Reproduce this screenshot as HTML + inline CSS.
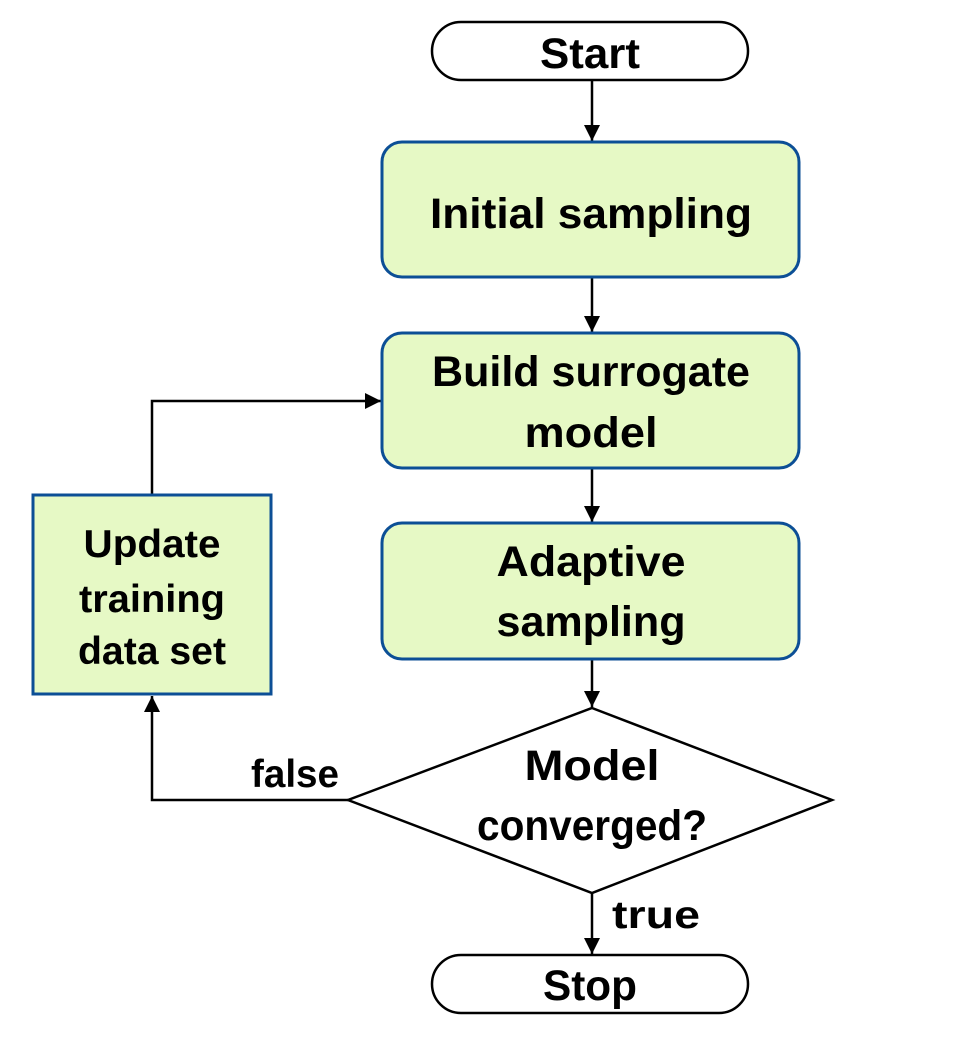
<!DOCTYPE html>
<html><head><meta charset="utf-8"><style>html,body{margin:0;padding:0;background:#fff}svg{display:block}</style></head>
<body>
<svg width="954" height="1044" viewBox="0 0 954 1044" xmlns="http://www.w3.org/2000/svg" font-family="'Liberation Sans', sans-serif" font-weight="bold" fill="#000">
<defs>
<marker id="b" markerWidth="18" markerHeight="18" refX="16" refY="8" orient="auto" markerUnits="userSpaceOnUse"><path d="M0,0 L16,8 L0,16 z" fill="#000"/></marker></defs>
<g stroke="#000" stroke-width="2.5" fill="none">
<line x1="592" y1="80" x2="592" y2="141" marker-end="url(#b)"/>
<line x1="592" y1="278" x2="592" y2="332" marker-end="url(#b)"/>
<line x1="592" y1="469" x2="592" y2="522" marker-end="url(#b)"/>
<line x1="592" y1="660" x2="592" y2="707" marker-end="url(#b)"/>
<line x1="592" y1="893" x2="592" y2="954" marker-end="url(#b)"/>
<polyline points="152,495 152,401 381,401" marker-end="url(#b)"/>
<polyline points="348,800 152,800 152,696" marker-end="url(#b)"/>
</g>
<rect x="432" y="22" width="316" height="58" rx="29" fill="#fff" stroke="#000" stroke-width="2.5"/>
<rect x="432" y="955" width="316" height="58" rx="29" fill="#fff" stroke="#000" stroke-width="2.5"/>
<g fill="#e6f9c5" stroke="#0c4f96" stroke-width="3">
<rect x="382" y="142" width="417" height="135" rx="20"/>
<rect x="382" y="333" width="417" height="135" rx="20"/>
<rect x="382" y="523" width="417" height="136" rx="20"/>
<rect x="33" y="495" width="238" height="199"/>
</g>
<polygon points="592,708 832,800 592,893 348,800" fill="#fff" stroke="#000" stroke-width="2.5"/>
<g font-size="43" text-anchor="middle">
<text x="590" y="68" textLength="100" lengthAdjust="spacingAndGlyphs">Start</text>
<text x="591" y="228" textLength="322" lengthAdjust="spacingAndGlyphs">Initial sampling</text>
<text x="591" y="386" textLength="318" lengthAdjust="spacingAndGlyphs">Build surrogate</text>
<text x="591" y="447" textLength="133" lengthAdjust="spacingAndGlyphs">model</text>
<text x="591" y="576" textLength="189" lengthAdjust="spacingAndGlyphs">Adaptive</text>
<text x="591" y="636" textLength="189" lengthAdjust="spacingAndGlyphs">sampling</text>
<text x="592" y="780" textLength="135" lengthAdjust="spacingAndGlyphs">Model</text>
<text x="592" y="840" textLength="230" lengthAdjust="spacingAndGlyphs">converged?</text>
<text x="590" y="1000" textLength="94" lengthAdjust="spacingAndGlyphs">Stop</text>
</g>
<g font-size="39" text-anchor="middle">
<text x="152" y="557" textLength="137" lengthAdjust="spacingAndGlyphs">Update</text>
<text x="152" y="612" textLength="146" lengthAdjust="spacingAndGlyphs">training</text>
<text x="152" y="664" textLength="148" lengthAdjust="spacingAndGlyphs">data set</text>
<text x="295" y="787" textLength="88" lengthAdjust="spacingAndGlyphs">false</text>
<text x="656" y="928" textLength="88" lengthAdjust="spacingAndGlyphs">true</text>
</g>
</svg>
</body></html>
